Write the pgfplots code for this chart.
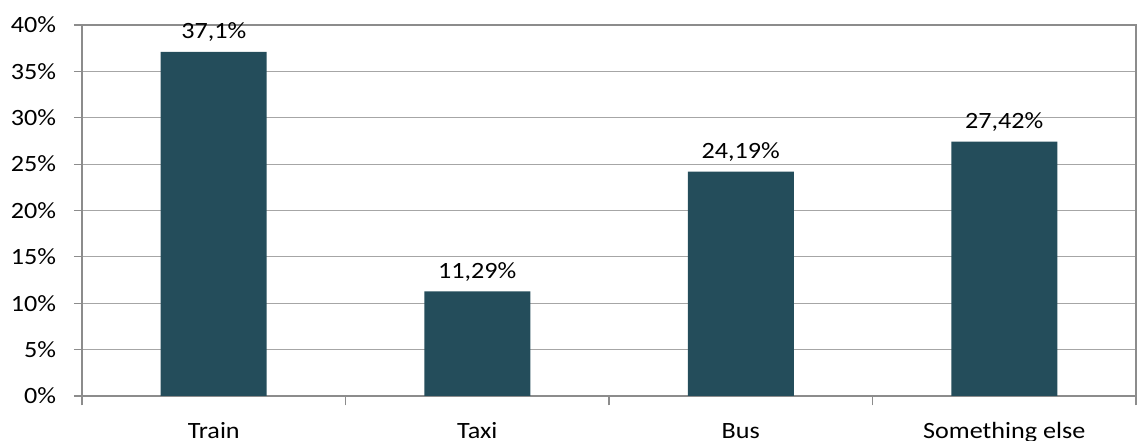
\documentclass[border=0pt]{standalone}
\usepackage{fontspec}
\setmainfont{Carlito}[FakeStretch=1.12]
\usepackage{pgfplots}
\pgfplotsset{compat=1.18}
\definecolor{barc}{HTML}{244D5B}
\definecolor{gridc}{HTML}{A6A6A6}
\definecolor{axc}{HTML}{8C8C8C}
\begin{document}
\begin{tikzpicture}
\begin{axis}[
  at={(0,0)}, anchor=south west,
  scale only axis,
  width=790.5pt, height=278.25pt,
  xmin=-0.5, xmax=3.5, ymin=0, ymax=40,
  axis line style={axc, line width=1.2pt},
  ytick={0,5,...,40},
  yticklabel={\pgfmathprintnumber{\tick}\%},
  ymajorgrids,
  grid style={gridc, line width=0.8pt},
  xtick={0,1,2,3},
  xticklabels={Train,Taxi,Bus,Something else},
  minor xtick={-0.5,0.5,1.5,2.5,3.5},
  xtick pos=bottom, ytick pos=left,
  x tick style={draw=none},
  minor x tick style={draw=axc, line width=0.8pt},
  y tick style={draw=axc, line width=0.8pt},
  tick align=outside,
  major tick length=6pt,
  minor tick length=7pt,
  tick label style={font=\fontsize{17.5}{20}\selectfont},
  /pgf/number format/assume math mode=true,
  yticklabel style={xshift=-10pt},
  xticklabel style={text height=12.5pt, text depth=4pt, yshift=-10pt},
  ybar, bar width=79.5pt,
  nodes near coords={\pgfmathprintnumber[use comma,precision=2]{\pgfplotspointmeta}\%},
  every node near coord/.append style={font=\fontsize{17.5}{20}\selectfont, text=black, yshift=4pt},
  clip=false,
]
\addplot[fill=barc, draw=none] coordinates {(0,37.1) (1,11.29) (2,24.19) (3,27.42)};
\end{axis}
\pgfresetboundingbox
\path[use as bounding box] (-61.5pt,-33.75pt) rectangle (792.75pt,297pt);
\end{tikzpicture}
\end{document}
